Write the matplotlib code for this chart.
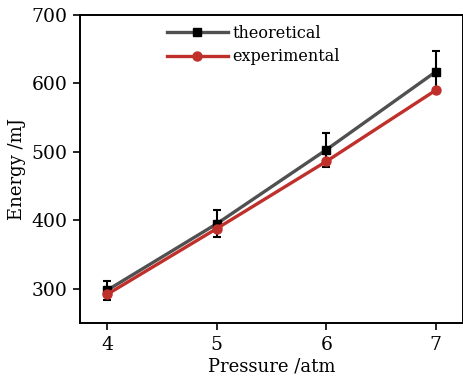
import matplotlib
matplotlib.use("Agg")
import matplotlib.pyplot as plt
from matplotlib.lines import Line2D

pressure = [4, 5, 6, 7]
theoretical = [298, 395, 503, 617]
theoretical_err = [14, 20, 25, 30]
experimental = [292, 388, 486, 590]

plt.rcParams['font.family'] = ['DejaVu Serif']

gray = '#505050'
red = '#c0302b'

fig = plt.figure(figsize=(4.63, 3.81), dpi=100)
ax = fig.add_axes([80/463, 1-323/381, 383/463, (323-15)/381])

ax.errorbar(pressure, theoretical, yerr=theoretical_err, color=gray, lw=2.4,
            marker='s', ms=6, mfc='black', mec='black', ecolor='black',
            elinewidth=1.5, capsize=3, capthick=1.5, label='theoretical', zorder=2)
ax.plot(pressure, experimental, color=red, lw=2.4, marker='o', ms=6.5,
        mfc=red, mec=red, label='experimental', zorder=3)

ax.set_xlim(3.75, 7.25)
ax.set_ylim(250, 700)
ax.set_xticks(pressure)
ax.set_yticks([300, 400, 500, 600, 700])
ax.tick_params(direction='out', length=5, width=1.2, labelsize=13.5, pad=4)
for s in ax.spines.values():
    s.set_linewidth(1.4)
ax.set_xlabel('Pressure /atm', fontsize=13, labelpad=3)
ax.set_ylabel('Energy /mJ', fontsize=13, labelpad=4)

handles = [Line2D([], [], color=gray, lw=2.4, marker='s', ms=6, mfc='black', mec='black'),
           Line2D([], [], color=red, lw=2.4, marker='o', ms=6.5, mfc=red, mec=red)]
ax.legend(handles, ['theoretical', 'experimental'], loc='upper left',
          bbox_to_anchor=(0.227, 0.968), frameon=False, fontsize=11.5,
          handlelength=3.8, handletextpad=0.3, labelspacing=0.4, borderpad=0,
          borderaxespad=0)

fig.savefig('out.png', dpi=100)
